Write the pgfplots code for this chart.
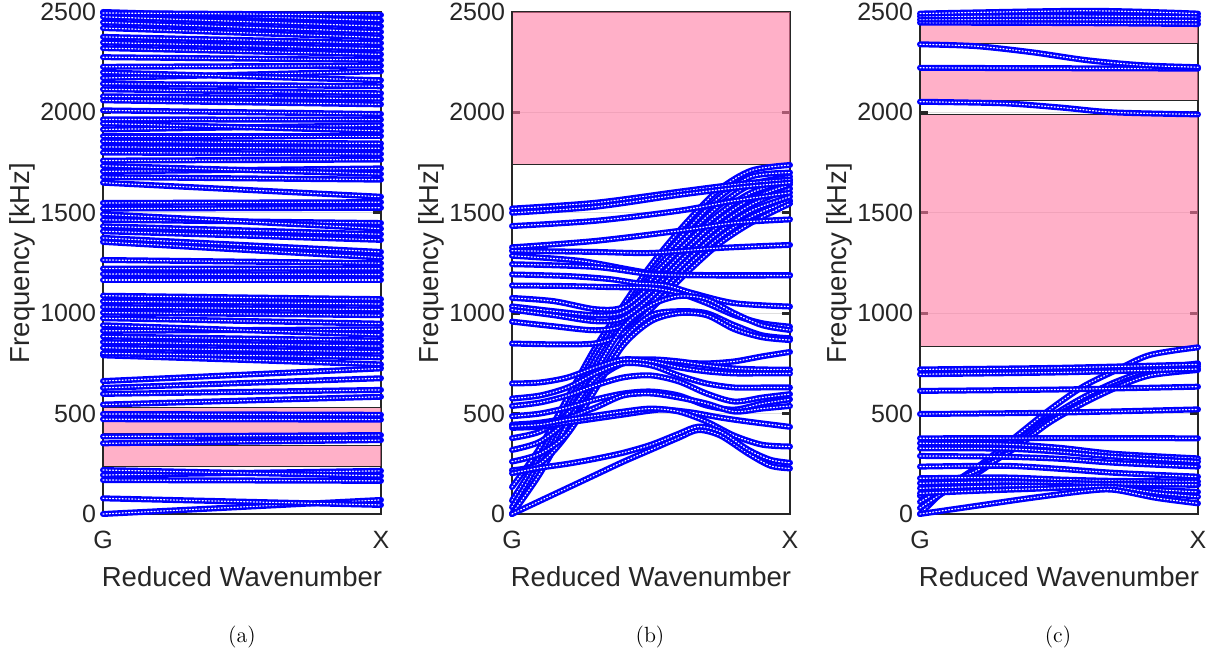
\documentclass[border=0pt]{standalone}
\usepackage{fontspec}
\usepackage{pgfplots}
\pgfplotsset{compat=1.18}
\newfontfamily\hv{Liberation Sans}
\definecolor{bandpink}{RGB}{255,123,163}
\definecolor{axgray}{RGB}{38,38,38}
\pgfplotsset{
  dispax/.style={
    width=139pt, height=251pt, scale only axis, clip=false,
    xmin=0, xmax=1, ymin=0, ymax=2500,
    xtick={0,1}, xticklabels={G,X},
    ytick={0,500,1000,1500,2000,2500},
    ymajorgrids, major grid style={color=black!13, line width=0.6pt},
    tick align=inside, ytick pos=both, xtick pos=both,
    major tick length=4pt,
    axis line style={axgray, line width=1.4pt},
    every tick/.style={axgray, line width=1.4pt},
    tick label style={font=\hv\fontsize{12.5}{15}\selectfont, text=axgray},
    /pgf/number format/assume math mode=true,
    /pgf/number format/1000 sep={},
    xticklabel style={yshift=-5pt},
    label style={font=\hv\fontsize{13.75}{16}\selectfont, text=axgray},
    xlabel={Reduced Wavenumber}, ylabel={Frequency [kHz]},
    xlabel style={at={(axis description cs:0.5,0)}, anchor=center, yshift=-31.5pt},
    ylabel style={at={(axis description cs:-0.291,0.5)}, anchor=center},
  },
  bnd/.style={fill=bandpink, fill opacity=0.6, draw=black!85, draw opacity=1, line width=0.5pt, no marks},
  cv/.style={color=blue, line width=3pt, line cap=round, line join=round, no marks,
    postaction={draw=white, line width=0.6pt, dash pattern=on 0.5pt off 1.1pt}},
  cs/.style={cv, smooth, tension=0.5},
}
\begin{document}
\begin{tikzpicture}
\useasboundingbox (0,0) rectangle (609.5pt,331pt);
% ---------------- (a) ----------------
\begin{axis}[dispax, at={(51.5pt,74pt)}, anchor=south west]
\addplot[bnd] coordinates {(0,507) (1,507) (1,532) (0,532) (0,507)};
\addplot[bnd] coordinates {(0,402) (1,402) (1,462) (0,462) (0,402)};
\addplot[bnd] coordinates {(0,236) (1,236) (1,341) (0,341) (0,236)};
\addplot[bnd] coordinates {(0,376) (1,376) (1,378) (0,378) (0,376)};
\addplot[bnd] coordinates {(0,802) (1,802) (1,805) (0,805) (0,802)};
% low curves
\addplot[cv] coordinates {(0,0) (1,70)};
\addplot[cv] coordinates {(0,78) (1,45)};
\addplot[cv] coordinates {(0,169) (1,165)};
\addplot[cv] coordinates {(0,194) (1,215)};
\addplot[cv] coordinates {(0,219) (1,190)};
\addplot[cv] coordinates {(0,352) (1,368)};
\addplot[cv] coordinates {(0,386) (1,393)};
\addplot[cv] coordinates {(0,472) (1,470)};
\addplot[cv] coordinates {(0,498) (1,494)};
\addplot[cv] coordinates {(0,545) (1,584)};
\addplot[cv] coordinates {(0,598) (1,618)};
\addplot[cv] coordinates {(0,628) (1,676)};
\addplot[cv] coordinates {(0,662) (1,725)};
\addplot[cv] coordinates {(0,790) (1,745)};
% dense upper curves
\addplot[cv] coordinates {(0,800) (1,780)};
\addplot[cv] coordinates {(0,828) (1,808)};
\addplot[cv] coordinates {(0,856) (1,836)};
\addplot[cv] coordinates {(0,884) (1,864)};
\addplot[cv] coordinates {(0,912) (1,920)};
\addplot[cv] coordinates {(0,940) (1,892)};
\addplot[cv] coordinates {(0,975) (1,948)};
\addplot[cv] coordinates {(0,1003) (1,990)};
\addplot[cv] coordinates {(0,1031) (1,1018)};
\addplot[cv] coordinates {(0,1059) (1,1046)};
\addplot[cv] coordinates {(0,1087) (1,1070)};
\addplot[cv] coordinates {(0,1165) (1,1165)};
\addplot[cv] coordinates {(0,1195) (1,1193)};
\addplot[cv] coordinates {(0,1222) (1,1221)};
\addplot[cv] coordinates {(0,1265) (1,1249)};
\addplot[cv] coordinates {(0,1355) (1,1277)};
\addplot[cv] coordinates {(0,1375) (1,1305)};
\addplot[cv] coordinates {(0,1408) (1,1365)};
\addplot[cv] coordinates {(0,1433) (1,1393)};
\addplot[cv] coordinates {(0,1465) (1,1449)};
\addplot[cv] coordinates {(0,1493) (1,1421)};
\addplot[cv] coordinates {(0,1521) (1,1525)};
\addplot[cv] coordinates {(0,1549) (1,1553)};
\addplot[cv] coordinates {(0,1650) (1,1580)};
\addplot[cv] coordinates {(0,1678) (1,1665)};
\addplot[cv] coordinates {(0,1706) (1,1721)};
\addplot[cv] coordinates {(0,1734) (1,1693)};
\addplot[cv] coordinates {(0,1760) (1,1765)};
\addplot[cv] coordinates {(0,1800) (1,1793)};
\addplot[cv] coordinates {(0,1828) (1,1821)};
\addplot[cv] coordinates {(0,1856) (1,1845)};
\addplot[cv] coordinates {(0,1880) (1,1880)};
\addplot[cv] coordinates {(0,1915) (1,1936)};
\addplot[cv] coordinates {(0,1945) (1,1908)};
\addplot[cv] coordinates {(0,1965) (1,1964)};
\addplot[cv] coordinates {(0,2010) (1,1992)};
\addplot[cv] coordinates {(0,2060) (1,2040)};
\addplot[cv] coordinates {(0,2080) (1,2068)};
\addplot[cv] coordinates {(0,2115) (1,2095)};
\addplot[cv] coordinates {(0,2143) (1,2130)};
\addplot[cv] coordinates {(0,2171) (1,2205)};
\addplot[cv] coordinates {(0,2199) (1,2160)};
\addplot[cv] coordinates {(0,2227) (1,2233)};
\addplot[cv] coordinates {(0,2275) (1,2261)};
\addplot[cv] coordinates {(0,2320) (1,2289)};
\addplot[cv] coordinates {(0,2348) (1,2317)};
\addplot[cv] coordinates {(0,2376) (1,2345)};
\addplot[cv] coordinates {(0,2420) (1,2373)};
\addplot[cv] coordinates {(0,2448) (1,2401)};
\addplot[cv] coordinates {(0,2476) (1,2429)};
\addplot[cv] coordinates {(0,2500) (1,2457)};
\addplot[cv] coordinates {(0,2495) (1,2485)};
\end{axis}
% ---------------- (b) ----------------
\begin{axis}[dispax, at={(256pt,74pt)}, anchor=south west]
\addplot[bnd] coordinates {(0,1740) (1,1740) (1,2500) (0,2500) (0,1740)};
% steep band
\addplot[cs] coordinates {(0,134) (0.1,330) (0.2,580) (0.3,830) (0.4,1040) (0.5,1240) (0.62,1440) (0.74,1610) (0.86,1710) (1,1738)};
\addplot[cs] coordinates {(0,67) (0.1,290) (0.2,540) (0.3,800) (0.4,1010) (0.5,1210) (0.62,1400) (0.74,1570) (0.86,1680) (1,1700)};
\addplot[cs] coordinates {(0,34) (0.1,260) (0.2,510) (0.3,770) (0.4,985) (0.5,1190) (0.62,1370) (0.74,1530) (0.86,1640) (1,1680)};
\addplot[cs] coordinates {(0,0) (0.1,230) (0.2,480) (0.3,740) (0.4,960) (0.5,1170) (0.62,1340) (0.74,1490) (0.86,1600) (1,1660)};
\addplot[cs] coordinates {(0,1076) (0.15,1060) (0.3,1020) (0.4,1030) (0.5,1140) (0.62,1310) (0.74,1460) (0.86,1570) (1,1640)};
\addplot[cs] coordinates {(0,1034) (0.15,1010) (0.3,990) (0.4,1005) (0.5,1110) (0.62,1280) (0.74,1430) (0.86,1540) (1,1620)};
\addplot[cs] coordinates {(0,1017) (0.15,990) (0.3,960) (0.4,975) (0.5,1080) (0.62,1250) (0.74,1400) (0.86,1510) (1,1580)};
\addplot[cs] coordinates {(0,958) (0.15,935) (0.3,915) (0.4,940) (0.5,1050) (0.62,1220) (0.74,1370) (0.86,1480) (1,1560)};
\addplot[cs] coordinates {(0,849) (0.15,845) (0.3,850) (0.4,900) (0.5,1020) (0.62,1190) (0.74,1340) (0.86,1450) (1,1546)};
% flat upper
\addplot[cs] coordinates {(0,1521) (0.3,1550) (0.6,1605) (0.84,1647) (1,1665)};
\addplot[cs] coordinates {(0,1500) (0.3,1530) (0.6,1589) (0.84,1630) (1,1650)};
\addplot[cs] coordinates {(0,1434) (0.3,1460) (0.6,1510) (0.8,1560) (1,1600)};
\addplot[cs] coordinates {(0,1328) (0.3,1360) (0.6,1410) (0.8,1450) (1,1467)};
\addplot[cs] coordinates {(0,1311) (0.3,1305) (0.5,1300) (0.75,1325) (1,1340)};
\addplot[cs] coordinates {(0,1286) (0.25,1260) (0.5,1200) (0.7,1190) (1,1190)};
\addplot[cs] coordinates {(0,1244) (0.3,1230) (0.5,1195) (0.7,1188) (1,1188)};
\addplot[cs] coordinates {(0,1193) (0.2,1185) (0.35,1170) (0.45,1150) (0.55,1140) (0.65,1100) (0.8,1050) (1,1033)};
\addplot[cs] coordinates {(0,1138) (0.2,1135) (0.35,1130) (0.5,1125) (0.6,1100) (0.7,1050) (0.8,990) (0.9,950) (1,933)};
% hump curves
\addplot[cs] coordinates {(0,0) (0.1,200) (0.2,450) (0.3,710) (0.4,930) (0.5,1040) (0.6,1085) (0.7,1070) (0.8,1000) (0.9,940) (1,916)};
\addplot[cs] coordinates {(0,218) (0.1,250) (0.2,400) (0.3,650) (0.4,870) (0.5,990) (0.6,1010) (0.7,1000) (0.8,940) (0.9,890) (1,875)};
\addplot[cs] coordinates {(0,261) (0.1,300) (0.2,400) (0.3,620) (0.4,840) (0.5,960) (0.6,1000) (0.7,990) (0.8,920) (0.9,880) (1,866)};
% middle group
\addplot[cs] coordinates {(0,319) (0.1,360) (0.2,470) (0.3,660) (0.4,750) (0.5,760) (0.6,755) (0.7,750) (0.8,760) (0.9,785) (1,807)};
\addplot[cs] coordinates {(0,378) (0.1,410) (0.2,500) (0.3,680) (0.4,760) (0.5,770) (0.6,760) (0.7,740) (0.8,725) (0.9,720) (1,719)};
\addplot[cs] coordinates {(0,650) (0.1,655) (0.2,680) (0.3,730) (0.4,770) (0.5,760) (0.6,730) (0.7,710) (0.8,700) (0.9,700) (1,700)};
\addplot[cs] coordinates {(0,575) (0.1,590) (0.2,630) (0.3,700) (0.4,750) (0.5,740) (0.6,690) (0.7,650) (0.8,630) (0.9,630) (1,630)};
\addplot[cs] coordinates {(0,538) (0.1,555) (0.2,590) (0.3,640) (0.4,680) (0.5,690) (0.6,660) (0.7,600) (0.8,560) (0.9,580) (1,597)};
\addplot[cs] coordinates {(0,487) (0.1,500) (0.2,530) (0.3,570) (0.4,600) (0.5,610) (0.6,590) (0.7,540) (0.8,520) (0.9,550) (1,571)};
\addplot[cs] coordinates {(0,445) (0.1,455) (0.2,480) (0.3,530) (0.4,590) (0.5,600) (0.6,580) (0.7,550) (0.8,510) (0.9,525) (1,538)};
\addplot[cs] coordinates {(0,429) (0.1,435) (0.2,455) (0.3,475) (0.4,495) (0.5,515) (0.55,520) (0.65,505) (0.75,480) (0.85,460) (1,434)};
\addplot[cs] coordinates {(0,437) (0.1,445) (0.2,470) (0.3,490) (0.4,510) (0.5,525) (0.6,510) (0.7,460) (0.8,390) (0.9,345) (1,336)};
% lowest
\addplot[cs] coordinates {(0,0) (0.1,65) (0.2,130) (0.3,195) (0.4,260) (0.5,320) (0.6,380) (0.67,418) (0.75,390) (0.85,300) (0.93,240) (1,227)};
\addplot[cs] coordinates {(0,203) (0.1,230) (0.2,250) (0.3,275) (0.4,305) (0.5,345) (0.6,400) (0.67,435) (0.75,410) (0.85,320) (0.93,270) (1,255)};
\end{axis}
% ---------------- (c) ----------------
\begin{axis}[dispax, at={(460pt,74pt)}, anchor=south west]
\addplot[bnd] coordinates {(0,832) (1,832) (1,1988) (0,1988) (0,832)};
\addplot[bnd] coordinates {(0,2058) (1,2058) (1,2216) (0,2216) (0,2058)};
\addplot[bnd] coordinates {(0,2341) (1,2341) (1,2447) (0,2447) (0,2341)};
% upper
\addplot[cs] coordinates {(0,2053) (0.3,2045) (0.5,2025) (0.7,2000) (1,1990)};
\addplot[cs] coordinates {(0,2222) (0.5,2220) (1,2218)};
\addplot[cs] coordinates {(0,2339) (0.2,2330) (0.4,2300) (0.6,2260) (0.8,2235) (1,2225)};
\addplot[cs] coordinates {(0,2447) (0.5,2445) (1,2440)};
\addplot[cs] coordinates {(0,2462) (0.5,2462) (1,2458)};
\addplot[cs] coordinates {(0,2478) (0.5,2480) (1,2476)};
\addplot[cs] coordinates {(0,2492) (0.6,2506) (1,2492)};
% steep
\addplot[cs] coordinates {(0,0) (0.103,136) (0.224,252) (0.344,385) (0.465,518) (0.586,634) (0.707,717) (0.827,792) (1,830)};
\addplot[cs] coordinates {(0,60) (0.1,140) (0.224,240) (0.344,360) (0.465,480) (0.586,580) (0.707,660) (0.827,715) (1,750)};
\addplot[cs] coordinates {(0,30) (0.1,120) (0.224,219) (0.344,344) (0.465,468) (0.586,560) (0.707,643) (0.827,701) (1,734)};
\addplot[cs] coordinates {(0,90) (0.1,150) (0.224,230) (0.344,330) (0.465,455) (0.586,550) (0.707,630) (0.827,690) (1,717)};
% flat
\addplot[cs] coordinates {(0,720) (0.5,728) (1,745)};
\addplot[cs] coordinates {(0,696) (0.5,705) (1,722)};
\addplot[cs] coordinates {(0,613) (0.5,620) (1,634)};
\addplot[cs] coordinates {(0,498) (0.5,505) (1,521)};
\addplot[cs] coordinates {(0,377) (0.5,378) (1,377)};
\addplot[cs] coordinates {(0,352) (0.3,348) (0.5,330) (0.7,300) (1,277)};
\addplot[cs] coordinates {(0,327) (0.3,325) (0.5,310) (0.7,285) (1,261)};
\addplot[cs] coordinates {(0,289) (0.3,285) (0.5,275) (0.7,255) (1,236)};
\addplot[cs] coordinates {(0,236) (0.3,240) (0.5,225) (0.7,205) (1,186)};
\addplot[cs] coordinates {(0,178) (0.3,182) (0.5,172) (0.7,165) (1,162)};
\addplot[cs] coordinates {(0,153) (0.3,160) (0.5,155) (0.7,150) (1,145)};
\addplot[cs] coordinates {(0,128) (0.3,140) (0.5,140) (0.7,130) (1,110)};
\addplot[cs] coordinates {(0,103) (0.2,115) (0.4,125) (0.6,135) (0.7,135) (0.85,105) (1,86)};
\addplot[cs] coordinates {(0,0) (0.2,40) (0.4,80) (0.6,115) (0.7,120) (0.85,80) (1,53)};
\end{axis}
\node[font=\fontsize{11}{13}\selectfont] at (121pt,12.5pt) {(a)};
\node[font=\fontsize{11}{13}\selectfont] at (325pt,12.5pt) {(b)};
\node[font=\fontsize{11}{13}\selectfont] at (529pt,12.5pt) {(c)};
\end{tikzpicture}
\end{document}
